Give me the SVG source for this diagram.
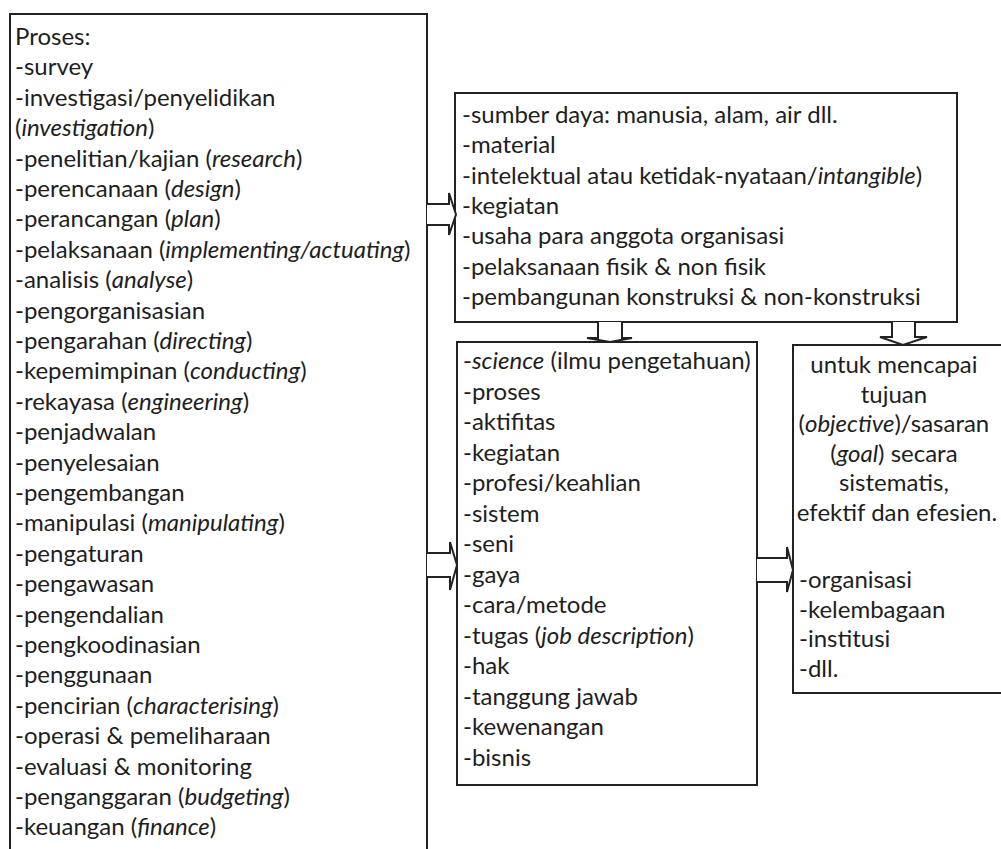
<svg xmlns="http://www.w3.org/2000/svg" width="1001" height="849" viewBox="0 0 1001 849">
<style>
.box{fill:#fff;stroke:#222;stroke-width:2}
.arr{fill:#fff;stroke:#222;stroke-width:2;stroke-linejoin:miter}
text{font-family:Lato,"Noto Sans",sans-serif;font-size:24px;fill:#1e1e1e}
.i{font-style:italic}
.c{text-anchor:middle}
</style>
<rect width="1001" height="849" fill="#fff"/>
<g id="proses">
<rect class="box" x="10" y="14" width="417" height="850"/>
<text>
<tspan x="15" y="45">Proses:</tspan>
<tspan x="15" y="75.4">-survey</tspan>
<tspan x="15" y="105.8">-investigasi/penyelidikan</tspan>
<tspan x="15" y="136.2">(<tspan class="i">investigation</tspan>)</tspan>
<tspan x="15" y="166.6">-penelitian/kajian (<tspan class="i">research</tspan>)</tspan>
<tspan x="15" y="197">-perencanaan (<tspan class="i">design</tspan>)</tspan>
<tspan x="15" y="227.4">-perancangan (<tspan class="i">plan</tspan>)</tspan>
<tspan x="15" y="257.8">-pelaksanaan (<tspan class="i">implementing/actuating</tspan>)</tspan>
<tspan x="15" y="288.2">-analisis (<tspan class="i">analyse</tspan>)</tspan>
<tspan x="15" y="318.6">-pengorganisasian</tspan>
<tspan x="15" y="349">-pengarahan (<tspan class="i">directing</tspan>)</tspan>
<tspan x="15" y="379.4">-kepemimpinan (<tspan class="i">conducting</tspan>)</tspan>
<tspan x="15" y="409.8">-rekayasa (<tspan class="i">engineering</tspan>)</tspan>
<tspan x="15" y="440.2">-penjadwalan</tspan>
<tspan x="15" y="470.6">-penyelesaian</tspan>
<tspan x="15" y="501">-pengembangan</tspan>
<tspan x="15" y="531.4">-manipulasi (<tspan class="i">manipulating</tspan>)</tspan>
<tspan x="15" y="561.8">-pengaturan</tspan>
<tspan x="15" y="592.2">-pengawasan</tspan>
<tspan x="15" y="622.6">-pengendalian</tspan>
<tspan x="15" y="653">-pengkoodinasian</tspan>
<tspan x="15" y="683.4">-penggunaan</tspan>
<tspan x="15" y="713.8">-pencirian (<tspan class="i">characterising</tspan>)</tspan>
<tspan x="15" y="744.2">-operasi &amp; pemeliharaan</tspan>
<tspan x="15" y="774.6">-evaluasi &amp; monitoring</tspan>
<tspan x="15" y="805">-penganggaran (<tspan class="i">budgeting</tspan>)</tspan>
<tspan x="15" y="835.4">-keuangan (<tspan class="i">finance</tspan>)</tspan>
</text>
</g>
<g id="sumberdaya">
<rect class="box" x="455" y="93" width="502" height="229"/>
<text>
<tspan x="462" y="123">-sumber daya: manusia, alam, air dll.</tspan>
<tspan x="462" y="153.3">-material</tspan>
<tspan x="462" y="183.6">-intelektual atau ketidak-nyataan/<tspan class="i">intangible</tspan>)</tspan>
<tspan x="462" y="213.9">-kegiatan</tspan>
<tspan x="462" y="244.2">-usaha para anggota organisasi</tspan>
<tspan x="462" y="274.5">-pelaksanaan fisik &amp; non fisik</tspan>
<tspan x="462" y="304.8">-pembangunan konstruksi &amp; non-konstruksi</tspan>
</text>
</g>
<g id="ilmu">
<rect class="box" x="457" y="342" width="300" height="443"/>
<text>
<tspan x="463" y="369">-<tspan class="i">science</tspan> (ilmu pengetahuan)</tspan>
<tspan x="463" y="399.5">-proses</tspan>
<tspan x="463" y="430">-aktifitas</tspan>
<tspan x="463" y="460.5">-kegiatan</tspan>
<tspan x="463" y="491">-profesi/keahlian</tspan>
<tspan x="463" y="521.5">-sistem</tspan>
<tspan x="463" y="552">-seni</tspan>
<tspan x="463" y="582.5">-gaya</tspan>
<tspan x="463" y="613">-cara/metode</tspan>
<tspan x="463" y="643.5">-tugas (<tspan class="i">job description</tspan>)</tspan>
<tspan x="463" y="674">-hak</tspan>
<tspan x="463" y="704.5">-tanggung jawab</tspan>
<tspan x="463" y="735">-kewenangan</tspan>
<tspan x="463" y="765.5">-bisnis</tspan>
</text>
</g>
<g id="tujuan">
<rect class="box" x="793" y="345" width="230" height="348"/>
<text class="c">
<tspan x="897" y="373">untuk mencapai</tspan>
<tspan x="897" y="403">tujuan</tspan>
<tspan x="897" y="432">(<tspan class="i">objective</tspan>)/sasaran</tspan>
<tspan x="897" y="462">(<tspan class="i">goal</tspan>) secara</tspan>
<tspan x="897" y="491">sistematis,</tspan>
<tspan x="897" y="521">efektif dan efesien.</tspan>
</text>
<text>
<tspan x="799" y="588">-organisasi</tspan>
<tspan x="799" y="618">-kelembagaan</tspan>
<tspan x="799" y="647">-institusi</tspan>
<tspan x="799" y="677">-dll.</tspan>
</text>
</g>
<g id="connectors">
<path class="arr" d="M427,204 H449 V193 L456,214.5 L449,235 V225 H427"/>
<path class="arr" d="M427,553 H450 V542 L457,565 L450,590 V577 H427"/>
<path class="arr" d="M757,558 H787 V547 L793,570 L787,592 V582 H757"/>
<path class="arr" d="M598,322 V338 H587 L610,342 L632,338 H622 V322"/>
<path class="arr" d="M892,322 V337 H880 L903,345 L927,337 H915 V322"/>
</g>
</svg>
